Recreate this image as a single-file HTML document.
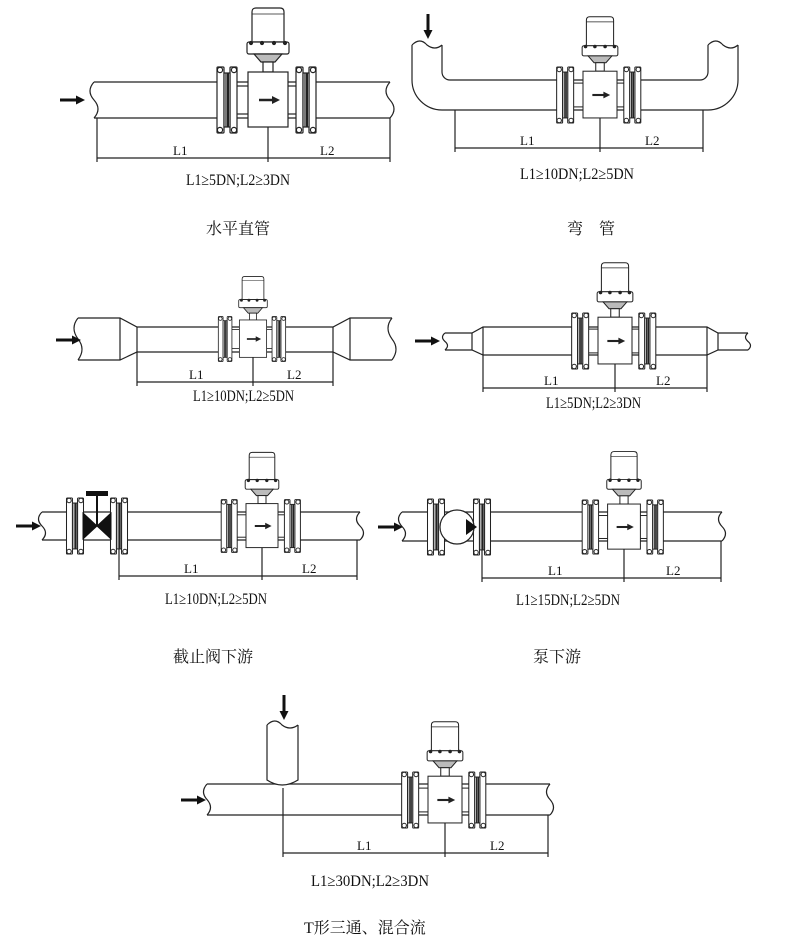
<!DOCTYPE html>
<html><head><meta charset="utf-8"><style>
html,body{margin:0;padding:0;background:#fff;}
svg{display:block;}
text{font-family:"Liberation Serif","Noto Serif CJK SC",serif;fill:#111;}
.cn{font-family:"Liberation Serif","Noto Serif CJK SC",serif;font-size:16px;}
.lb{font-size:13px;}
.fm{font-size:16px;}
</style></head><body>
<svg width="800" height="937" viewBox="0 0 800 937" xmlns="http://www.w3.org/2000/svg">
<defs>
<g id="fl" stroke="#222" stroke-width="1.2" fill="#fff">
  <rect x="-10" y="-33" width="7" height="66" rx="1"/>
  <rect x="3" y="-33" width="7" height="66" rx="1"/>
  <rect x="-3" y="-27" width="6" height="54" fill="#fff"/>
  <line x1="-1" y1="-27" x2="-1" y2="27"/>
  <line x1="1" y1="-27" x2="1" y2="27" stroke-width="2"/>
  <circle cx="-7" cy="-30" r="2.6"/><circle cx="7" cy="-30" r="2.6"/>
  <circle cx="-7" cy="30" r="2.6"/><circle cx="7" cy="30" r="2.6"/>
</g>
<g id="m" stroke="#222" stroke-width="1.2" fill="#fff">
  <rect x="-32" y="-14" width="64" height="28"/>
  <use href="#fl" x="-41"/>
  <use href="#fl" x="38"/>
  <path d="M-16,-58 V-88 Q-16,-92 -12,-92 H12 Q16,-92 16,-88 V-58 Z"/>
  <line x1="-16" y1="-86" x2="16" y2="-86" stroke-width="0.8"/>
  <rect x="-21" y="-58" width="42" height="12" rx="2"/>
  <path d="M-14,-46 L-7,-38 H7 L14,-46 Z" fill="#bbb"/>
  <rect x="-5" y="-38" width="10" height="10"/>
  <rect x="-20" y="-28" width="40" height="55"/>
  <circle cx="-17" cy="-57" r="1.5" fill="#222"/><circle cx="-6" cy="-57" r="1.5" fill="#222"/>
  <circle cx="6" cy="-57" r="1.5" fill="#222"/><circle cx="17" cy="-57" r="1.5" fill="#222"/>
  <line x1="-9" y1="0" x2="6" y2="0" stroke-width="2.5"/>
  <path d="M4,-4 L12,0 L4,4 Z" fill="#222" stroke="none"/>
</g>
<g id="ar"><line x1="0" y1="0" x2="18" y2="0" stroke="#111" stroke-width="3"/><path d="M16,-4.5 L25,0 L16,4.5 Z" fill="#111"/></g>
<g id="ad"><line x1="0" y1="0" x2="0" y2="18" stroke="#111" stroke-width="3"/><path d="M-4.5,16 L0,25 L4.5,16 Z" fill="#111"/></g>
</defs>

<g stroke="#222" stroke-width="1.2" fill="none">
<line x1="94" y1="82" x2="390" y2="82"/><line x1="94" y1="118" x2="390" y2="118"/>
<path d="M94,82 q-8,9 0,18 q8,9 0,18"/><path d="M390,82 q-8,9 0,18 q8,9 0,18"/>
<line x1="97" y1="118" x2="97" y2="162"/><line x1="390" y1="118" x2="390" y2="162"/><line x1="268" y1="80" x2="268" y2="162"/>
<line x1="97" y1="158" x2="390" y2="158"/>
<path d="M412,45 V80 A30,30 0 0 0 442,110 H708 A30,30 0 0 0 738,80 V45"/>
<path d="M442,45 V72 A8,8 0 0 0 450,80 H700 A8,8 0 0 0 708,72 V45"/>
<path d="M412,45 q8,-8 15,0 q8,6 15,0"/><path d="M708,45 q8,-8 15,0 q8,6 15,0"/>
<line x1="455" y1="110" x2="455" y2="152"/><line x1="703" y1="110" x2="703" y2="152"/><line x1="600" y1="90" x2="600" y2="152"/>
<line x1="455" y1="148" x2="703" y2="148"/>
<path d="M78,318 H120 L137,327 H333 L350,318 H392"/><path d="M78,360 H120 L137,352 H333 L350,360 H392"/>
<line x1="120" y1="318" x2="120" y2="360"/><line x1="137" y1="327" x2="137" y2="352"/><line x1="333" y1="327" x2="333" y2="352"/><line x1="350" y1="318" x2="350" y2="360"/>
<path d="M78,318 q-8,10 0,21 q8,10 0,21"/><path d="M392,318 q-8,10 0,21 q8,10 0,21"/>
<line x1="137" y1="352" x2="137" y2="386"/><line x1="333" y1="352" x2="333" y2="386"/><line x1="253" y1="335" x2="253" y2="386"/>
<line x1="137" y1="382" x2="333" y2="382"/>
<path d="M445,333 H472 L483,327 H707 L718,333 H748"/><path d="M445,350 H472 L483,355 H707 L718,350 H748"/>
<line x1="472" y1="333" x2="472" y2="350"/><line x1="483" y1="327" x2="483" y2="355"/><line x1="707" y1="327" x2="707" y2="355"/><line x1="718" y1="333" x2="718" y2="350"/>
<path d="M445,333 q-5,4 0,8.5 q5,4 0,8.5"/><path d="M748,333 q-5,4 0,8.5 q5,4 0,8.5"/>
<line x1="483" y1="355" x2="483" y2="392"/><line x1="707" y1="355" x2="707" y2="392"/><line x1="615" y1="335" x2="615" y2="392"/>
<line x1="483" y1="388" x2="707" y2="388"/>
<line x1="42" y1="512" x2="360" y2="512"/><line x1="42" y1="540" x2="360" y2="540"/>
<path d="M42,512 q-7,7 0,14 q7,7 0,14"/><path d="M360,512 q-7,7 0,14 q7,7 0,14"/>
<line x1="119" y1="540" x2="119" y2="580"/><line x1="357" y1="540" x2="357" y2="580"/><line x1="262" y1="520" x2="262" y2="580"/>
<line x1="119" y1="576" x2="357" y2="576"/>
<line x1="402" y1="512" x2="722" y2="512"/><line x1="402" y1="541" x2="722" y2="541"/>
<path d="M402,512 q-7,7 0,14.5 q7,7 0,14.5"/><path d="M722,512 q-7,7 0,14.5 q7,7 0,14.5"/>
<line x1="482" y1="541" x2="482" y2="582"/><line x1="721" y1="541" x2="721" y2="582"/><line x1="624" y1="520" x2="624" y2="582"/>
<line x1="482" y1="578" x2="721" y2="578"/>
<line x1="207" y1="784" x2="550" y2="784"/><line x1="207" y1="815" x2="550" y2="815"/>
<path d="M207,784 q-7,8 0,15.5 q7,8 0,15.5"/><path d="M550,784 q-7,8 0,15.5 q7,8 0,15.5"/>
<path d="M267,725 V780 Q282,790 298,780 V725" fill="#fff"/>
<path d="M267,725 q8,-8 15,0 q8,6 16,0"/>
<line x1="283" y1="788" x2="283" y2="857"/><line x1="548" y1="815" x2="548" y2="857"/><line x1="445" y1="790" x2="445" y2="857"/>
<line x1="283" y1="853" x2="548" y2="853"/>
</g>

<use href="#m" transform="translate(268,100)"/>
<use href="#m" transform="translate(600,95) scale(0.85)"/>
<use href="#m" transform="translate(253,339) scale(0.68)"/>
<use href="#m" transform="translate(615,341) scale(0.85)"/>
<use href="#m" transform="translate(262,526) scale(0.8)"/>
<use href="#m" transform="translate(624,527) scale(0.82)"/>
<use href="#m" transform="translate(445,800) scale(0.85)"/>

<use href="#fl" transform="translate(75,526) scale(0.85)"/>
<use href="#fl" transform="translate(119,526) scale(0.85)"/>
<path d="M83,513 L111,539 V513 L83,539 Z" fill="#111" stroke="#111"/>
<line x1="97" y1="526" x2="97" y2="494" stroke="#111" stroke-width="2"/>
<rect x="86" y="491" width="22" height="5" fill="#111"/>
<use href="#fl" transform="translate(436,527) scale(0.85)"/>
<use href="#fl" transform="translate(482,527) scale(0.85)"/>
<circle cx="457" cy="527" r="17" fill="#fff" stroke="#222" stroke-width="1.2"/>
<path d="M466,519 L477,527 L466,535 Z" fill="#111"/>

<use href="#ar" x="60" y="100"/>
<use href="#ad" x="428" y="14"/>
<use href="#ar" x="56" y="340"/>
<use href="#ar" x="415" y="341"/>
<use href="#ar" x="16" y="526"/>
<use href="#ar" x="378" y="527"/>
<use href="#ad" x="284" y="695"/>
<use href="#ar" x="181" y="800"/>

<text class="lb" x="173" y="155">L1</text><text class="lb" x="320" y="155">L2</text>
<text class="fm" x="186" y="185" textLength="104" lengthAdjust="spacingAndGlyphs">L1≥5DN;L2≥3DN</text>
<text class="cn" x="206" y="234">水平直管</text>
<text class="lb" x="520" y="145">L1</text><text class="lb" x="645" y="145">L2</text>
<text class="fm" x="520" y="179" textLength="114" lengthAdjust="spacingAndGlyphs">L1≥10DN;L2≥5DN</text>
<text class="cn" x="567" y="234">弯　管</text>
<text class="lb" x="189" y="379">L1</text><text class="lb" x="287" y="379">L2</text>
<text class="fm" x="193" y="401" textLength="101" lengthAdjust="spacingAndGlyphs">L1≥10DN;L2≥5DN</text>
<text class="lb" x="544" y="385">L1</text><text class="lb" x="656" y="385">L2</text>
<text class="fm" x="546" y="408" textLength="95" lengthAdjust="spacingAndGlyphs">L1≥5DN;L2≥3DN</text>
<text class="lb" x="184" y="573">L1</text><text class="lb" x="302" y="573">L2</text>
<text class="fm" x="165" y="604" textLength="102" lengthAdjust="spacingAndGlyphs">L1≥10DN;L2≥5DN</text>
<text class="cn" x="173" y="662">截止阀下游</text>
<text class="lb" x="548" y="575">L1</text><text class="lb" x="666" y="575">L2</text>
<text class="fm" x="516" y="605" textLength="104" lengthAdjust="spacingAndGlyphs">L1≥15DN;L2≥5DN</text>
<text class="cn" x="533" y="662">泵下游</text>
<text class="lb" x="357" y="850">L1</text><text class="lb" x="490" y="850">L2</text>
<text class="fm" x="311" y="886" textLength="118" lengthAdjust="spacingAndGlyphs">L1≥30DN;L2≥3DN</text>
<text class="cn" x="304" y="933">T形三通、混合流</text>
</svg>
</body></html>
